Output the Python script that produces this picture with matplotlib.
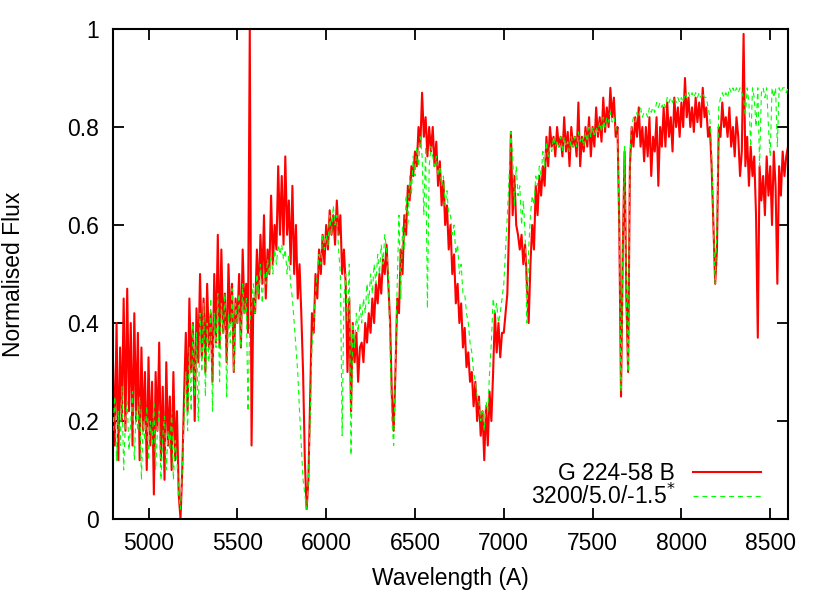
import numpy as np
import matplotlib
matplotlib.use("Agg")
import matplotlib.pyplot as plt

plt.rcParams['font.family'] = ['Liberation Sans', 'DejaVu Sans']

# Wavelength grid (Angstrom), 10 A sampling
wave_start, wave_step = 4800, 10

# Observed spectrum: G 224-58 B
flux_obs = [
    0.32,0.15,0.40,0.12,0.35,0.20,0.45,0.18,0.47,0.22,
    0.40,0.15,0.42,0.20,0.38,0.12,0.35,0.18,0.30,0.10,
    0.33,0.15,0.28,0.05,0.30,0.18,0.36,0.12,0.27,0.08,
    0.32,0.15,0.25,0.10,0.30,0.12,0.22,0.05,0.00,0.10,
    0.25,0.38,0.22,0.45,0.30,0.40,0.20,0.43,0.32,0.50,
    0.33,0.45,0.30,0.48,0.35,0.42,0.28,0.50,0.36,0.58,
    0.35,0.55,0.38,0.46,0.32,0.52,0.40,0.48,0.30,0.45,
    0.40,0.50,0.35,0.55,0.42,0.48,0.38,1.00,0.15,0.45,
    0.42,0.55,0.45,0.58,0.48,0.62,0.45,0.55,0.50,0.66,
    0.52,0.60,0.55,0.72,0.58,0.70,0.56,0.74,0.58,0.65,
    0.52,0.68,0.50,0.60,0.45,0.52,0.42,0.30,0.12,0.02,
    0.08,0.25,0.42,0.38,0.50,0.45,0.55,0.50,0.58,0.52,
    0.60,0.55,0.63,0.58,0.62,0.56,0.65,0.58,0.62,0.50,
    0.55,0.48,0.30,0.45,0.22,0.40,0.32,0.38,0.28,0.35,
    0.36,0.32,0.40,0.36,0.42,0.38,0.45,0.40,0.48,0.44,
    0.50,0.46,0.53,0.50,0.56,0.48,0.40,0.25,0.18,0.30,
    0.45,0.42,0.55,0.50,0.62,0.58,0.68,0.65,0.72,0.70,
    0.75,0.72,0.80,0.76,0.87,0.78,0.82,0.74,0.80,0.75,
    0.80,0.72,0.77,0.68,0.73,0.64,0.69,0.60,0.64,0.55,
    0.60,0.50,0.54,0.44,0.48,0.40,0.44,0.35,0.39,0.31,
    0.34,0.28,0.30,0.23,0.28,0.20,0.25,0.17,0.22,0.12,
    0.23,0.15,0.26,0.20,0.30,0.42,0.34,0.40,0.33,0.38,
    0.38,0.42,0.46,0.60,0.79,0.62,0.70,0.60,0.58,0.55,
    0.58,0.52,0.56,0.48,0.40,0.52,0.60,0.55,0.68,0.62,
    0.70,0.66,0.72,0.68,0.78,0.72,0.80,0.76,0.78,0.74,
    0.80,0.76,0.78,0.74,0.82,0.75,0.79,0.72,0.80,0.76,
    0.78,0.74,0.85,0.72,0.78,0.75,0.80,0.76,0.82,0.74,
    0.80,0.76,0.84,0.78,0.82,0.77,0.86,0.79,0.84,0.80,
    0.88,0.82,0.86,0.78,0.80,0.60,0.25,0.55,0.75,0.45,
    0.30,0.72,0.80,0.76,0.82,0.78,0.84,0.76,0.80,0.73,
    0.80,0.74,0.82,0.70,0.78,0.75,0.82,0.68,0.80,0.76,
    0.84,0.76,0.85,0.78,0.82,0.75,0.86,0.80,0.84,0.78,
    0.85,0.80,0.90,0.82,0.86,0.80,0.84,0.79,0.86,0.81,
    0.85,0.80,0.88,0.82,0.84,0.78,0.80,0.72,0.60,0.48,
    0.55,0.80,0.78,0.85,0.80,0.82,0.78,0.84,0.76,0.80,
    0.74,0.82,0.78,0.70,0.75,0.99,0.72,0.78,0.68,0.76,
    0.70,0.74,0.62,0.37,0.72,0.65,0.70,0.62,0.74,0.66,
    0.72,0.60,0.75,0.68,0.48,0.72,0.66,0.75,0.70,0.74,
    0.76,
]

# Model spectrum: 3200/5.0/-1.5
flux_model = [
    0.18,0.25,0.12,0.22,0.15,0.27,0.10,0.20,0.24,0.14,
    0.20,0.26,0.12,0.22,0.18,0.25,0.08,0.20,0.16,0.23,
    0.12,0.20,0.15,0.24,0.10,0.18,0.22,0.08,0.17,0.21,
    0.10,0.18,0.14,0.22,0.08,0.16,0.12,0.05,0.02,0.10,
    0.20,0.30,0.18,0.35,0.22,0.40,0.25,0.38,0.20,0.42,
    0.30,0.44,0.25,0.40,0.32,0.45,0.22,0.42,0.35,0.46,
    0.28,0.44,0.38,0.46,0.25,0.42,0.36,0.47,0.30,0.44,
    0.40,0.46,0.35,0.48,0.42,0.45,0.22,0.40,0.44,0.48,
    0.42,0.50,0.46,0.52,0.44,0.50,0.48,0.53,0.50,0.54,
    0.50,0.55,0.52,0.56,0.54,0.56,0.53,0.55,0.50,0.54,
    0.48,0.45,0.40,0.35,0.30,0.22,0.15,0.08,0.05,0.02,
    0.08,0.20,0.35,0.40,0.46,0.50,0.54,0.52,0.58,0.55,
    0.58,0.56,0.62,0.58,0.64,0.60,0.62,0.55,0.50,0.17,
    0.45,0.50,0.40,0.52,0.13,0.40,0.35,0.42,0.38,0.44,
    0.40,0.45,0.42,0.48,0.44,0.50,0.46,0.52,0.48,0.54,
    0.50,0.56,0.52,0.58,0.55,0.50,0.35,0.20,0.15,0.32,
    0.48,0.62,0.45,0.60,0.55,0.66,0.60,0.70,0.66,0.74,
    0.70,0.76,0.72,0.78,0.74,0.62,0.76,0.43,0.72,0.76,
    0.74,0.72,0.74,0.70,0.72,0.68,0.70,0.64,0.67,0.62,
    0.62,0.58,0.60,0.54,0.56,0.50,0.52,0.46,0.46,0.42,
    0.40,0.36,0.34,0.30,0.28,0.25,0.24,0.20,0.22,0.18,
    0.24,0.22,0.30,0.36,0.45,0.42,0.44,0.40,0.42,0.45,
    0.48,0.55,0.62,0.70,0.79,0.74,0.64,0.72,0.66,0.68,
    0.60,0.65,0.58,0.40,0.55,0.62,0.66,0.64,0.70,0.68,
    0.72,0.70,0.75,0.72,0.77,0.74,0.76,0.75,0.78,0.76,
    0.77,0.76,0.78,0.75,0.78,0.76,0.77,0.75,0.78,0.76,
    0.78,0.76,0.79,0.77,0.78,0.76,0.79,0.77,0.80,0.78,
    0.80,0.78,0.80,0.79,0.81,0.79,0.82,0.80,0.82,0.81,
    0.83,0.81,0.82,0.80,0.78,0.60,0.26,0.55,0.76,0.45,
    0.30,0.74,0.80,0.82,0.81,0.83,0.82,0.84,0.82,0.83,
    0.83,0.82,0.84,0.83,0.84,0.83,0.85,0.84,0.85,0.84,
    0.85,0.84,0.86,0.85,0.86,0.85,0.86,0.85,0.86,0.85,
    0.86,0.85,0.87,0.86,0.87,0.86,0.87,0.86,0.87,0.86,
    0.87,0.86,0.87,0.86,0.86,0.84,0.82,0.75,0.60,0.48,
    0.60,0.84,0.86,0.87,0.86,0.87,0.86,0.88,0.87,0.88,
    0.87,0.88,0.87,0.88,0.87,0.86,0.82,0.88,0.85,0.76,
    0.88,0.86,0.80,0.88,0.72,0.87,0.88,0.86,0.88,0.80,
    0.74,0.88,0.86,0.88,0.76,0.88,0.87,0.88,0.88,0.87,
    0.88,
]

label_obs = "G 224-58 B"
label_model = r"3200/5.0/-1.5$^{*}$"
x_ticks = [5000, 5500, 6000, 6500, 7000, 7500, 8000, 8500]
y_ticks = [0, 0.2, 0.4, 0.6, 0.8, 1.0]
y_tick_labels = ["0", "0.2", "0.4", "0.6", "0.8", "1"]

wave_obs = wave_start + wave_step * np.arange(len(flux_obs))
wave_model = wave_start + wave_step * np.arange(len(flux_model))

fig = plt.figure(figsize=(8.30, 5.93), dpi=100)
ax = fig.add_axes([113/830, 1-519/593, 675/830, 490/593])

ax.plot(wave_obs, flux_obs, color='#ff0000', lw=1.5, label=label_obs, zorder=2)
ax.plot(wave_model, flux_model, color='#00ff00', lw=0.8, ls=(0, (4.5, 3.5)),
        label=label_model, zorder=3)

ax.set_xlim(4800, 8600)
ax.set_ylim(0, 1)
ax.set_xticks(x_ticks)
ax.set_yticks(y_ticks)
ax.set_yticklabels(y_tick_labels)
ax.tick_params(direction='in', length=8, width=1.3, top=True, right=True,
               labelsize=16.5)
ax.tick_params(axis='x', pad=9)
ax.tick_params(axis='y', pad=10)
for s in ax.spines.values():
    s.set_linewidth(1.5)

ax.set_xlabel("Wavelength (A)", fontsize=16.5)
ax.set_ylabel("Normalised Flux", fontsize=16.5)
ax.xaxis.set_label_coords(0.5, -0.097)
ax.yaxis.set_label_coords(-0.131, 0.5)

leg = ax.legend(loc='lower right', bbox_to_anchor=(0.960, 0.02),
                markerfirst=False, frameon=False, fontsize=16.5,
                handlelength=2.95, handletextpad=0.8, labelspacing=-0.05,
                borderpad=0, borderaxespad=0)

fig.savefig("out.png", dpi=100)
